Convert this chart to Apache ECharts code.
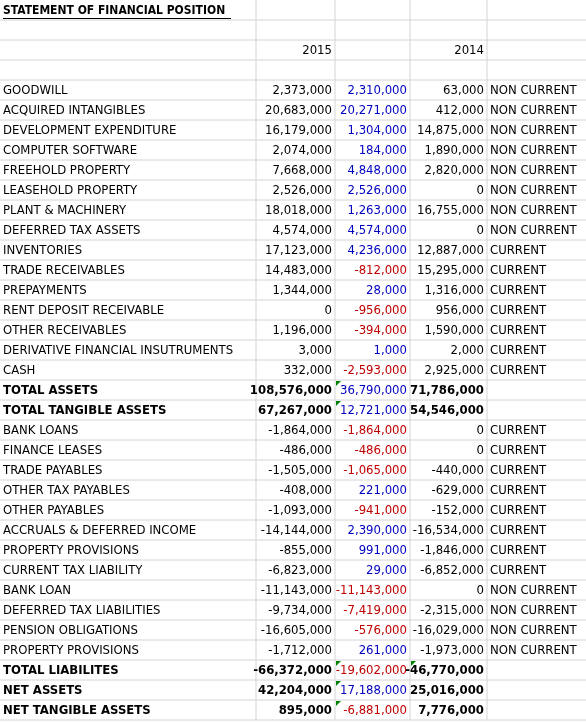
<!DOCTYPE html><html><head><meta charset="utf-8">
<script src="https://cdn.jsdelivr.net/npm/echarts@6/dist/echarts.min.js"></script>
<style>html,body{margin:0;padding:0;background:#fff}#c{width:586px;height:722px}</style></head><body><div id="c"></div>
<script>
const labels=["GOODWILL","ACQUIRED INTANGIBLES","DEVELOPMENT EXPENDITURE","COMPUTER SOFTWARE","FREEHOLD PROPERTY","LEASEHOLD PROPERTY","PLANT & MACHINERY","DEFERRED TAX ASSETS","INVENTORIES","TRADE RECEIVABLES","PREPAYMENTS","RENT DEPOSIT RECEIVABLE","OTHER RECEIVABLES","DERIVATIVE FINANCIAL INSUTRUMENTS","CASH","TOTAL ASSETS","TOTAL TANGIBLE ASSETS","BANK LOANS","FINANCE LEASES","TRADE PAYABLES","OTHER TAX PAYABLES","OTHER PAYABLES","ACCRUALS & DEFERRED INCOME","PROPERTY PROVISIONS","CURRENT TAX LIABILITY","BANK LOAN","DEFERRED TAX LIABILITIES","PENSION OBLIGATIONS","PROPERTY PROVISIONS","TOTAL LIABILITES","NET ASSETS","NET TANGIBLE ASSETS"];
const v2015=[2373000,20683000,16179000,2074000,7668000,2526000,18018000,4574000,17123000,14483000,1344000,0,1196000,3000,332000,108576000,67267000,-1864000,-486000,-1505000,-408000,-1093000,-14144000,-855000,-6823000,-11143000,-9734000,-16605000,-1712000,-66372000,42204000,895000];
const vDiff=[2310000,20271000,1304000,184000,4848000,2526000,1263000,4574000,4236000,-812000,28000,-956000,-394000,1000,-2593000,36790000,12721000,-1864000,-486000,-1065000,221000,-941000,2390000,991000,29000,-11143000,-7419000,-576000,261000,-19602000,17188000,-6881000];
const v2014=[63000,412000,14875000,1890000,2820000,0,16755000,0,12887000,15295000,1316000,956000,1590000,2000,2925000,71786000,54546000,0,0,-440000,-629000,-152000,-16534000,-1846000,-6852000,0,-2315000,-16029000,-1973000,-46770000,25016000,7776000];
const kinds=["NON CURRENT","NON CURRENT","NON CURRENT","NON CURRENT","NON CURRENT","NON CURRENT","NON CURRENT","NON CURRENT","CURRENT","CURRENT","CURRENT","CURRENT","CURRENT","CURRENT","CURRENT","","","CURRENT","CURRENT","CURRENT","CURRENT","CURRENT","CURRENT","CURRENT","CURRENT","NON CURRENT","NON CURRENT","NON CURRENT","NON CURRENT","","",""];
const title="STATEMENT OF FINANCIAL POSITION";
const years=["2015","2014"];
const totalRows=[15,16,29,30,31];
const colEdges=[0,256,335,410,487,586];
const FONT='"DejaVu Sans Condensed","DejaVu Sans",sans-serif';
const fmt=v=>(v<0?'-':'')+Math.abs(v).toLocaleString('en-US');
const nRows=36, off=4;
const data=[];for(let r=0;r<nRows;r++)data.push([r]);
const ch=echarts.init(document.getElementById('c'));
function txt(x,y,s,align,color,bold,size){return {type:'text',style:{x:x,y:y,text:s,align:align,verticalAlign:'middle',fill:color,font:(bold?'bold ':'')+(size||13)+'px '+FONT}};}
ch.setOption({animation:false,
grid:{left:0,right:0,top:0,bottom:2},
xAxis:{type:'value',min:0,max:586,show:false},
yAxis:{type:'value',min:0,max:nRows,inverse:true,show:false},
series:[{type:'custom',data:data,clip:false,renderItem:function(p,api){
 const r=api.value(0);
 const top=api.coord([0,r])[1],bot=api.coord([0,r+1])[1],ym=(top+bot)/2+1;
 const X=c=>api.coord([colEdges[c],0])[0];
 const kids=[];
 kids.push({type:'line',shape:{x1:0,y1:bot,x2:586,y2:bot},style:{stroke:'#d4d4d4',lineWidth:1}});
 for(let c=1;c<5;c++)kids.push({type:'line',shape:{x1:X(c),y1:top,x2:X(c),y2:bot},style:{stroke:'#d4d4d4',lineWidth:1}});
 if(r===0){kids.push(txt(3,ym,title,'left','#000',true,12));
   kids.push({type:'rect',shape:{x:3,y:Math.round(ym+7),width:228,height:1},style:{fill:'#000'}});}
 if(r===2){kids.push(txt(X(2)-3,ym,years[0],'right','#000',false));kids.push(txt(X(4)-3,ym,years[1],'right','#000',false));}
 const i=r-off;
 if(i>=0&&i<labels.length){
  const b=totalRows.indexOf(i)>=0;
  kids.push(txt(3,ym,labels[i],'left','#000',b));
  kids.push(txt(X(2)-3,ym,fmt(v2015[i]),'right','#000',b));
  kids.push(txt(X(3)-3,ym,fmt(vDiff[i]),'right',vDiff[i]<0?'#c00000':'#0000c0',false));
  kids.push(txt(X(4)-3,ym,fmt(v2014[i]),'right','#000',b));
  if(kinds[i])kids.push(txt(X(4)+3,ym,kinds[i],'left','#000',false));
  if(b){const xs=[X(2)];if(i===29)xs.push(X(3));
   xs.forEach(x=>kids.push({type:'polygon',shape:{points:[[x+1,top+1],[x+6,top+1],[x+1,top+6]]},style:{fill:'#008000'}}));}
 }
 return {type:'group',children:kids};
}}]});
</script></body></html>
